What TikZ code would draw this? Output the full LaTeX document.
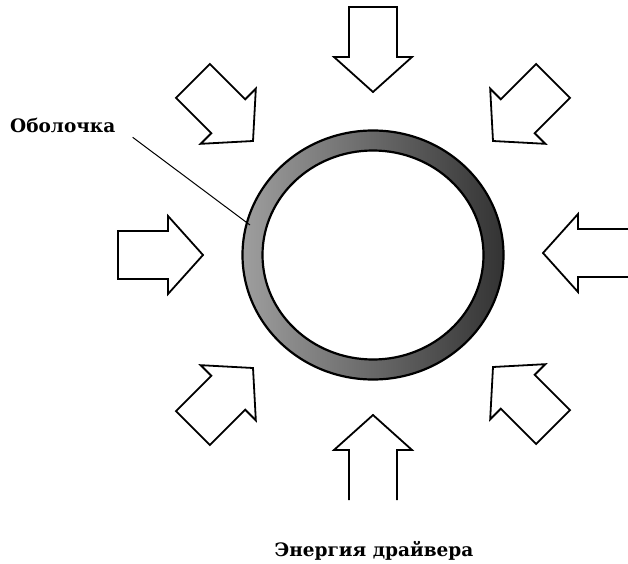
\documentclass[tikz,border=0pt]{standalone}
\usepackage{fontspec}
\setmainfont{DejaVu Serif}

\begin{document}
\begin{tikzpicture}[x=1pt, y=1pt,
    pushline/.style={draw=black, line width=1.8pt, line join=miter},
    caption/.style={font=\bfseries\fontsize{18.5}{20}\selectfont, inner sep=2pt},
    pusharrow/.pic={\draw[pushline] (0,0) -- (-35,39) -- (-35,24) -- (-85,24) -- (-85,-24) -- (-35,-24) -- (-35,-39) -- cycle;},
    openarrow/.pic={\draw[pushline] (-85,24) -- (-35,24) -- (-35,39) -- (0,0) -- (-35,-39) -- (-35,-24) -- (-85,-24);}
]
\useasboundingbox (0,0) rectangle (628,563);

% the shell
\coordinate (core) at (373,308);
\shade[even odd rule, left color=black!38, right color=black!80]
    (core) ellipse (131pt and 125pt) (core) ellipse (110pt and 104pt);
\draw[line width=2.2pt] (core) ellipse (130.5pt and 124.5pt);
\draw[line width=2.2pt] (core) ellipse (110.5pt and 104.5pt);

% driver energy, pushing inward
\pic[rotate=-90] (ptop) at (373,471) {pusharrow};
\pic[rotate=90] (pbottom) at (373,148) {openarrow};
\pic (pleft) at (203,308) {pusharrow};
\pic[rotate=180] (pright) at (543,310) {openarrow};
\pic[rotate=-45] (ptopleft) at (253,422) {pusharrow};
\pic[rotate=-135] (ptopright) at (493,422) {pusharrow};
\pic[rotate=45] (pbotleft) at (253,195) {pusharrow};
\pic[rotate=135] (pbotright) at (493,196) {pusharrow};

% labels
\node[caption, anchor=base west] (shelllabel) at (8,430) {Оболочка};
\coordinate (shellpt) at (250,338);
\draw[line width=1pt, shorten <=19pt] (shelllabel.east) -- (shellpt);

\node[caption, anchor=base] (drivelabel) at (374,7) {Энергия драйвера};
\end{tikzpicture}
\end{document}
